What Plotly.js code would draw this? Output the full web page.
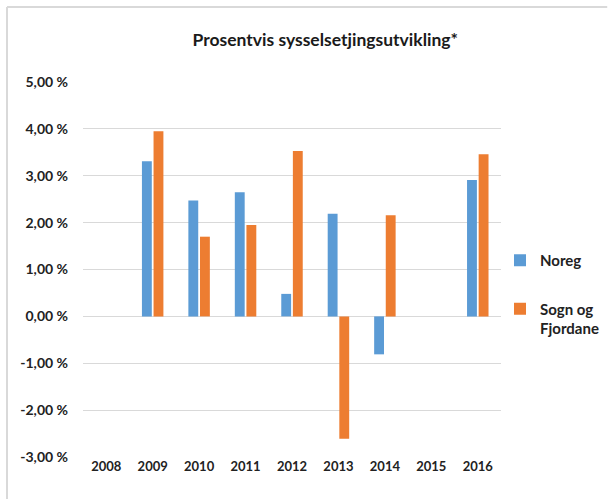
<!DOCTYPE html>
<html>
<head>
<meta charset="utf-8">
<script src="https://cdn.plot.ly/plotly-3.0.1.min.js"></script>
<style>
html,body{margin:0;padding:0;background:#fff;}
#chart{width:616px;height:499px;}
</style>
</head>
<body>
<div id="chart"></div>
<script>
const years = ['2008','2009','2010','2011','2012','2013','2014','2015','2016'];
const noreg = [null, 3.31, 2.47, 2.65, 0.48, 2.19, -0.81, null, 2.91];
const sognOgFjordane = [null, 3.95, 1.70, 1.95, 3.53, -2.61, 2.16, null, 3.46];
const seriesNames = ['Noreg', 'Sogn og<br>Fjordane'];
const yTicks = [-3, -2, -1, 0, 1, 2, 3, 4, 5];
const yTickLabels = ['-3,00 %', '-2,00 %', '-1,00 %', '0,00 %', '1,00 %', '2,00 %', '3,00 %', '4,00 %', '5,00 %'];

const W = 616, H = 499;
const M = {l: 83, r: 104, t: 82, b: 42};
const pw = W - M.l - M.r, ph = H - M.t - M.b;
const px = x => (x - M.l) / pw;
const py = y => (H - M.b - y) / ph;

const font = 'Lato, "Open Sans", sans-serif';

const traces = [
  {type: 'bar', name: seriesNames[0], x: years, y: noreg, marker: {color: '#5b9bd5'}, legendgroup: 'a'},
  {type: 'bar', name: seriesNames[1], x: years, y: sognOgFjordane, marker: {color: '#ed7d31'}, legendgroup: 'b'}
];

const layout = {
  width: W, height: H,
  margin: M,
  paper_bgcolor: '#fff', plot_bgcolor: '#fff',
  barmode: 'group', bargap: 0.5, bargroupgap: 0.15,
  title: {text: '<b>Prosentvis sysselsetjingsutvikling*</b>', x: 0.528, xanchor: 'center', y: 1 - 40/H, yanchor: 'middle',
          font: {family: font, size: 17.5, color: '#1a1a1a'}},
  xaxis: {type: 'category', showgrid: false, zeroline: false, showline: false, ticks: '',
          tickfont: {family: font, size: 13, color: '#222', weight: 700}, automargin: false},
  yaxis: {range: [-3, 5], tickvals: yTicks, ticktext: yTickLabels,
          showgrid: true, gridcolor: '#d9d9d9', gridwidth: 1, zeroline: true, zerolinecolor: '#d9d9d9', zerolinewidth: 1,
          showline: false, ticks: '', ticklabelstandoff: 14,
          tickfont: {family: font, size: 14, color: '#222', weight: 700}, automargin: false},
  showlegend: true,
  legend: {x: px(511), xanchor: 'left', y: py(244), yanchor: 'top', tracegroupgap: 26, valign: 'top',
           font: {family: font, size: 15, color: '#222', weight: 700}, itemwidth: 30, bgcolor: 'rgba(0,0,0,0)'},
  shapes: [
    {type: 'line', xref: 'paper', yref: 'paper', x0: px(5), x1: px(5), y0: py(7), y1: py(H + 5), line: {color: '#d9d9d9', width: 2}},
    {type: 'line', xref: 'paper', yref: 'paper', x0: px(5), x1: px(W + 5), y0: py(7), y1: py(7), line: {color: '#d9d9d9', width: 2}}
  ]
};

Plotly.newPlot('chart', traces, layout, {staticPlot: true, displayModeBar: false});
</script>
</body>
</html>
